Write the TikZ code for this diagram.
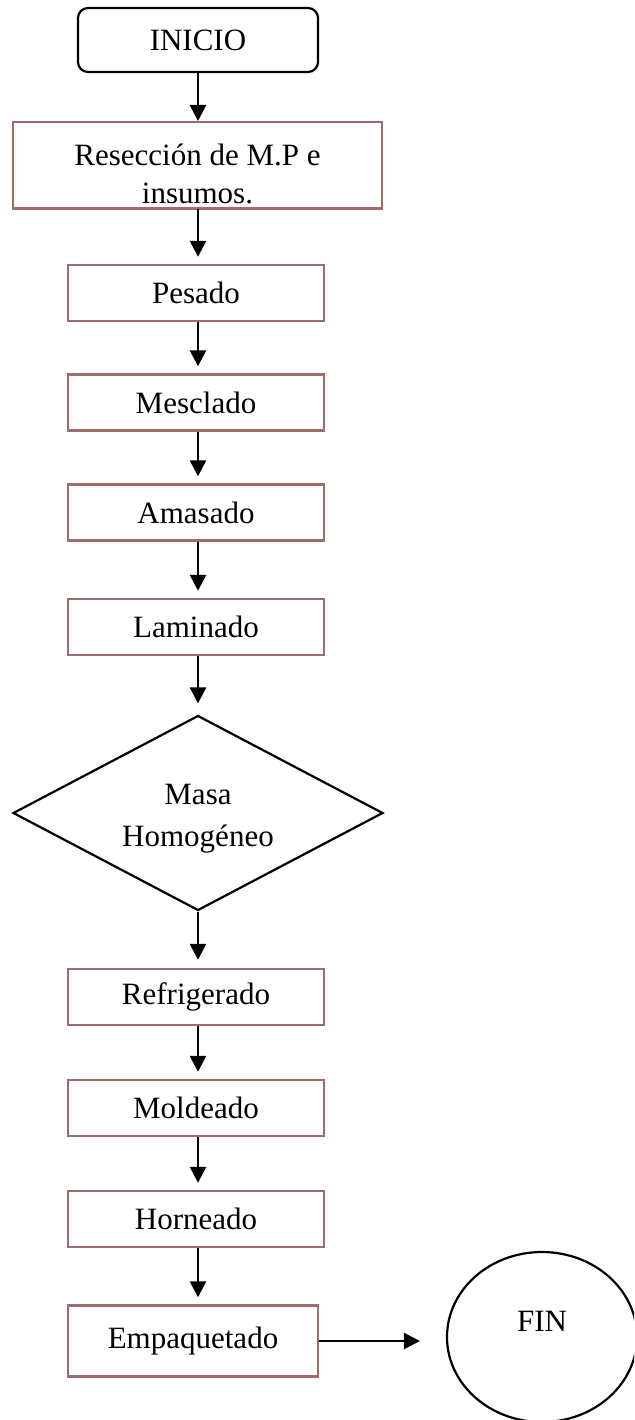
\documentclass[tikz,border=0pt]{standalone}
\usepackage{fontspec}
\setmainfont{Liberation Serif}
\usetikzlibrary{shapes.geometric,arrows.meta}
\definecolor{boxbrown}{RGB}{158,108,108}
\tikzset{
  txt/.style={font=\fontsize{31}{38}\selectfont, text=black},
  procbox/.style={draw=boxbrown, line width=2.4pt, rectangle, minimum width=256pt, minimum height=56pt, inner sep=0pt, txt},
  flow/.style={draw=black, line width=2.6pt, -{Triangle[length=16pt,width=16pt]}},
}
\begin{document}
\begin{tikzpicture}[x=1pt,y=-1pt]
\useasboundingbox (0,0) rectangle (634,1420);
\clip (0,0) rectangle (634,1420);
\fill[white] (0,0) rectangle (634,1420);

\node[draw=black, line width=2.2pt, rounded corners=10pt, minimum width=240pt, minimum height=64pt, inner sep=0pt, txt] (ini) at (198,40) {INICIO};

\node[draw=boxbrown, line width=2.4pt, rectangle, minimum width=369pt, minimum height=86pt, inner sep=0pt] (res) at (197.5,165) {};
\node[txt, align=center, inner sep=0pt] (restxt) at (197.5,174) {Resección de M.P e\\insumos.};
\draw[draw=boxbrown, line width=2.4pt] (res.south west) -- (res.south east);

\node[procbox] (pes) at (196,293) {Pesado};
\node[procbox] (mes) at (196,402.5) {Mesclado};
\node[procbox] (ama) at (196,512.5) {Amasado};
\node[procbox] (lam) at (196,627) {Laminado};

\node[draw=black, line width=2.2pt, diamond, minimum width=370pt, minimum height=195pt, inner sep=0pt] (dia) at (198,813) {};
\node[txt, align=center, inner sep=0pt, font=\fontsize{31}{42}\selectfont] (diatxt) at (198,819) {Masa\\Homogéneo};

\node[procbox] (ref) at (196,997) {Refrigerado};
\node[procbox] (mol) at (196,1108) {Moldeado};
\node[procbox] (hor) at (196,1219) {Horneado};
\node[procbox, minimum width=250pt, minimum height=71pt] (emp) at (193,1341) {Empaquetado};

\node[draw=black, line width=2.2pt, ellipse, minimum width=190pt, minimum height=170pt, inner sep=0pt] (fin) at (542,1337) {};
\node[txt, inner sep=0pt] (fintxt) at (542,1321) {FIN};

\draw[flow] (ini.south -| 198,0) -- (198,121);
\draw[flow, shorten >=7pt] (res.south -| 198,0) -- (pes.north -| 198,0);
\draw[flow, shorten >=7pt] (pes.south -| 198,0) -- (mes.north -| 198,0);
\draw[flow, shorten >=7pt] (mes.south -| 198,0) -- (ama.north -| 198,0);
\draw[flow, shorten >=7pt] (ama.south -| 198,0) -- (lam.north -| 198,0);
\draw[flow, shorten >=11pt] (lam.south -| 198,0) -- (dia.north);
\draw[flow, shorten >=8pt] (dia.south) -- (ref.north -| 198,0);
\draw[flow, shorten >=7pt] (ref.south -| 198,0) -- (mol.north -| 198,0);
\draw[flow, shorten >=7pt] (mol.south -| 198,0) -- (hor.north -| 198,0);
\draw[flow, shorten >=7pt] (hor.south -| 198,0) -- (emp.north -| 198,0);
\draw[flow, shorten >=26pt] (emp.east) -- (fin.west |- emp.east);
\end{tikzpicture}
\end{document}
